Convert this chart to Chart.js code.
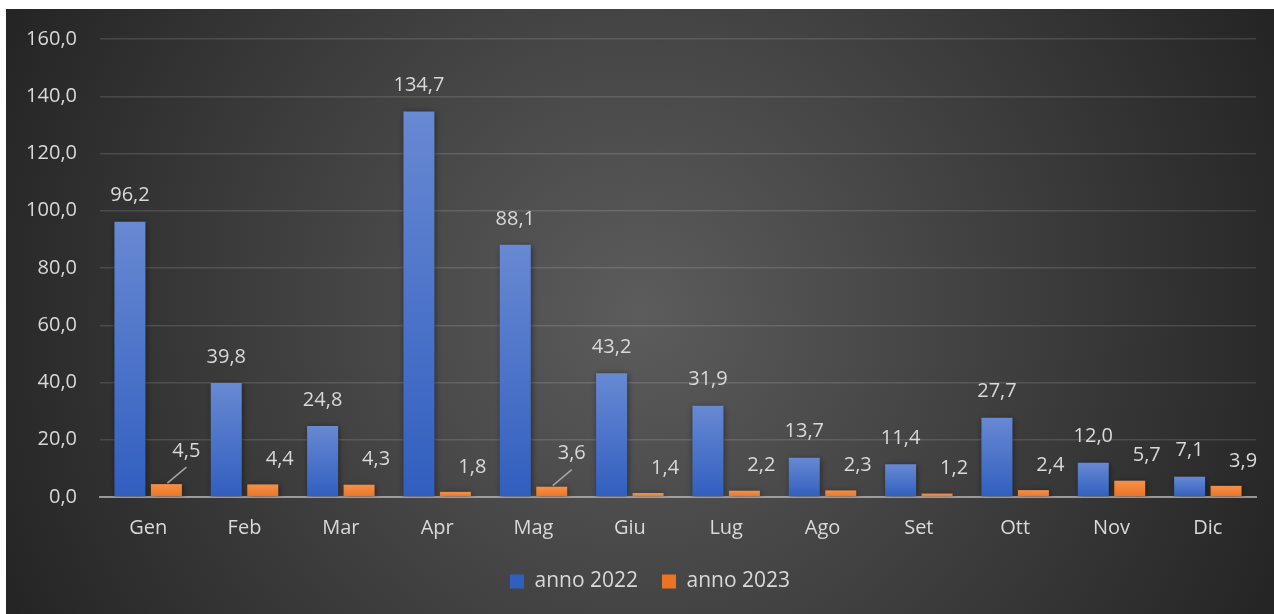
<!DOCTYPE html>
<html>
<head>
<meta charset="utf-8">
<script src="https://cdn.jsdelivr.net/npm/chart.js@4"></script>
<style>
  body { margin: 0; background: #fff; }
  #wrap { position: absolute; left: 6px; top: 9px; width: 1268px; height: 605px; }
</style>
</head>
<body>
<div id="wrap"><canvas id="myChart"></canvas></div>
<script>
const months = ['Gen', 'Feb', 'Mar', 'Apr', 'Mag', 'Giu', 'Lug', 'Ago', 'Set', 'Ott', 'Nov', 'Dic'];
const anno2022 = [96.2, 39.8, 24.8, 134.7, 88.1, 43.2, 31.9, 13.7, 11.4, 27.7, 12.0, 7.1];
const anno2023 = [4.5, 4.4, 4.3, 1.8, 3.6, 1.4, 2.2, 2.3, 1.2, 2.4, 5.7, 3.9];
const yTicks = [0, 20, 40, 60, 80, 100, 120, 140, 160];

// labels Excel moved up with a leader line
const leaderMonths = ['Gen', 'Mag'];

const fmt = v => v.toFixed(1).replace('.', ',');
const textColor = '#d9d9d9';
const font = { family: "'Open Sans', sans-serif", size: 20 };

function barFill(top, bottom, mid) {
    return function(ctx) {
        const chart = ctx.chart;
        if (ctx.type !== 'data' || !chart.chartArea) return mid;
        const y = chart.scales.y;
        const y0 = y.getPixelForValue(0);
        const y1 = y.getPixelForValue(ctx.parsed.y);
        if (y0 - y1 < 1) return mid;
        const g = chart.ctx.createLinearGradient(0, y1, 0, y0);
        g.addColorStop(0, top);
        g.addColorStop(1, bottom);
        return g;
    };
}

const background = {
    id: 'background',
    afterLayout(chart) {
        // legend sits a bit right of centre in the original
        chart.legend.left += 19;
        chart.legend.right += 19;
    },
    beforeDraw(chart) {
        const c = chart.ctx, w = chart.width, h = chart.height;
        const g = c.createRadialGradient(w / 2, h / 2, 0, w / 2, h / 2, Math.hypot(w / 2, h / 2));
        g.addColorStop(0, '#5c5c5c');
        g.addColorStop(1, '#242424');
        c.save();
        c.fillStyle = g;
        c.fillRect(0, 0, w, h);
        c.restore();
    }
};

const barShadow = {
    id: 'barShadow',
    beforeDatasetsDraw(chart) {
        const c = chart.ctx;
        c.save();
        c.shadowColor = 'rgba(0,0,0,0.45)';
        c.shadowBlur = 6;
        c.shadowOffsetX = 1;
        c.shadowOffsetY = 1;
    },
    afterDatasetsDraw(chart) {
        chart.ctx.restore();
    }
};

const valueLabels = {
    id: 'valueLabels',
    afterDatasetsDraw(chart) {
        const c = chart.ctx;
        c.save();
        c.font = font.size + 'px ' + font.family;
        c.fillStyle = textColor;
        c.textAlign = 'center';
        c.textBaseline = 'middle';
        chart.data.datasets.forEach((ds, i) => {
            chart.getDatasetMeta(i).data.forEach((bar, j) => {
                const v = ds.data[j];
                let x = bar.x, y = bar.y - 26;
                if (i === 1) {
                    if (leaderMonths.includes(months[j])) {
                        x = bar.x + 20; y = bar.y - 33;
                        c.strokeStyle = '#a6a6a6';
                        c.lineWidth = 1.5;
                        c.beginPath();
                        c.moveTo(bar.x + 1, bar.y - 1);
                        c.lineTo(x, y + 16);
                        c.stroke();
                    } else {
                        x = bar.x + 17; y = bar.y - 25;
                    }
                }
                c.fillText(fmt(v), x, y);
            });
        });
        c.restore();
    }
};

const ctx = document.getElementById('myChart');
const myChart = new Chart(ctx, {
    type: 'bar',
    data: {
        labels: months,
        datasets: [{
            label: 'anno 2022',
            data: anno2022,
            backgroundColor: barFill('#6889d3', '#315fbf', '#4472c4'),
            categoryPercentage: 0.757,
            barPercentage: 0.85
        }, {
            label: 'anno 2023',
            data: anno2023,
            backgroundColor: barFill('#f5904a', '#ea7423', '#ed7d31'),
            categoryPercentage: 0.757,
            barPercentage: 0.85
        }]
    },
    options: {
        responsive: true,
        maintainAspectRatio: false,
        animation: false,
        layout: { padding: { top: 30, right: 18, bottom: 12, left: 0 } },
        plugins: {
            tooltip: { enabled: false },
            legend: {
                position: 'bottom',
                labels: {
                    color: textColor,
                    font: { family: font.family, size: 21 },
                    boxWidth: 14,
                    boxHeight: 14,
                    padding: 24
                }
            }
        },
        scales: {
            x: {
                grid: { display: false, drawTicks: false },
                border: { display: true, color: 'rgba(175,175,175,0.8)', width: 2 },
                ticks: { color: textColor, font: font, padding: 19 },
                afterFit(scale) { scale.height = 50; }
            },
            y: {
                min: 0,
                max: 160,
                afterBuildTicks(scale) { scale.ticks = yTicks.map(v => ({ value: v })); },
                grid: { color: 'rgba(255,255,255,0.13)', lineWidth: 1.5, drawTicks: false },
                border: { display: false },
                ticks: { color: textColor, font: font, padding: 23, callback: v => fmt(v) },
                afterFit(scale) {
                    scale.width = 94;
                    scale.paddingTop = 0;
                    scale.paddingBottom = 0;
                }
            }
        }
    },
    plugins: [background, barShadow, valueLabels]
});
</script>
</body>
</html>
